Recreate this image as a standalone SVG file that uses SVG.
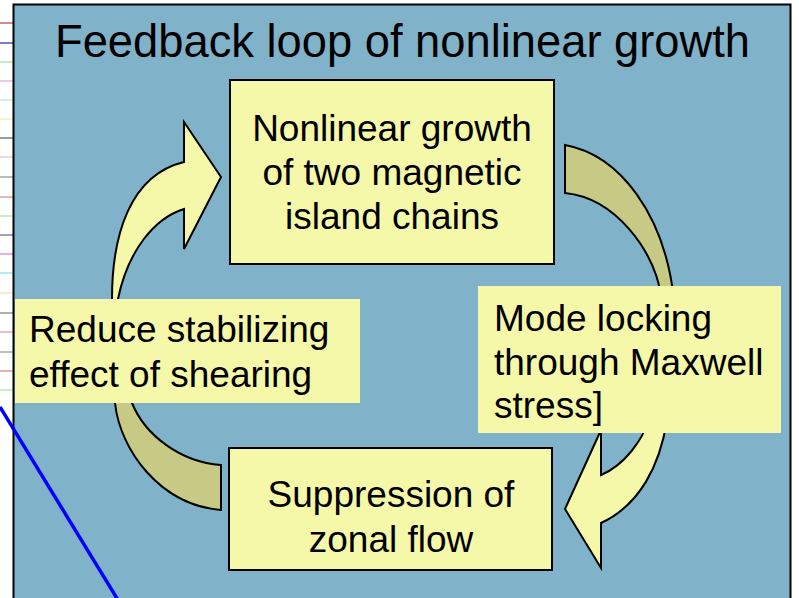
<svg xmlns="http://www.w3.org/2000/svg" width="799" height="598" viewBox="0 0 799 598">
<style>
.t{font-family:"Liberation Sans",Arial,sans-serif;fill:#000;font-size:37px}
.box{fill:#F5F8A8}
.sbox{fill:#F5F8A8;stroke:#000;stroke-width:2}
.arr{fill:#F5F8A8;stroke:#000;stroke-width:2;stroke-linejoin:miter}
.back{fill:#C6CA85;stroke:#000;stroke-width:2}
.st{stroke-width:2}
</style>
<rect x="0" y="0" width="799" height="598" fill="#fff"/>
<g id="strip" class="st">
<line x1="0" y1="23" x2="13" y2="23" stroke="#d88a8a"/>
<line x1="0" y1="43" x2="13" y2="43" stroke="#7a7ad0"/>
<line x1="0" y1="62" x2="13" y2="62" stroke="#c6eac6"/>
<line x1="0" y1="81" x2="13" y2="81" stroke="#eccae4"/>
<line x1="0" y1="100" x2="13" y2="100" stroke="#d2f0ea"/>
<line x1="0" y1="119" x2="13" y2="119" stroke="#f6f4d0"/>
<line x1="0" y1="138" x2="13" y2="138" stroke="#9a9a9a"/>
<line x1="0" y1="157" x2="13" y2="157" stroke="#f0d8d8"/>
<line x1="0" y1="177" x2="13" y2="177" stroke="#bcbcbc"/>
<line x1="0" y1="197" x2="13" y2="197" stroke="#e8b6b6"/>
<line x1="0" y1="216" x2="13" y2="216" stroke="#d0eac4"/>
<line x1="0" y1="235" x2="13" y2="235" stroke="#a2a0be"/>
<line x1="0" y1="254" x2="13" y2="254" stroke="#e8b2e8"/>
<line x1="0" y1="273" x2="13" y2="273" stroke="#b6eaf4"/>
<line x1="0" y1="293" x2="13" y2="293" stroke="#eaf4c4"/>
<line x1="0" y1="313" x2="13" y2="313" stroke="#b0b0b0"/>
<line x1="0" y1="332" x2="13" y2="332" stroke="#ecc0c0"/>
<line x1="0" y1="352" x2="13" y2="352" stroke="#c0c0c0"/>
<line x1="0" y1="371" x2="13" y2="371" stroke="#e8b0b0"/>
<line x1="0" y1="390" x2="13" y2="390" stroke="#d0ead0"/>
</g>
<rect id="frame" x="13.5" y="4.5" width="777" height="600" fill="#80B3C9" stroke="#000" stroke-width="2"/>
<text id="title" class="t" x="55" y="57" style="font-size:45.3px">Feedback loop of nonlinear growth</text>
<g id="connectors">
<path class="arr" d="M112,320 L112,299 C112,235 130,175 184,162 L184,122 L221,177 L184,249 L184,209 C155,218 128,250 118,299 L118,320 Z"/>
<path class="back" d="M113,392 L115,403 C120,450 160,505 221,510 L221,465 C180,462 145,435 132,403 L130,392 Z"/>
<path class="back" d="M565,145 C620,155 665,215 674,300 L662,300 C655,250 615,198 565,193 Z"/>
<path class="arr" d="M667,420 C660,465 640,505 601,523 L601,568 L565,509 L601,430 L601,475 C625,465 642,440 649,420 Z"/>
</g>
<g id="node-top">
<rect class="sbox" x="230" y="80" width="324" height="184"/>
<text class="t" text-anchor="middle" x="392" y="141">Nonlinear growth</text>
<text class="t" text-anchor="middle" x="392" y="185">of two magnetic</text>
<text class="t" text-anchor="middle" x="392" y="229">island chains</text>
</g>
<g id="node-right">
<rect class="box" x="478" y="286" width="303" height="147"/>
<text class="t" x="494" y="331">Mode locking</text>
<text class="t" x="494" y="375">through Maxwell</text>
<text class="t" x="494" y="418">stress]</text>
</g>
<g id="node-bottom">
<rect class="sbox" x="229" y="448" width="323" height="122"/>
<text class="t" text-anchor="middle" x="391" y="507">Suppression of</text>
<text class="t" text-anchor="middle" x="391" y="552">zonal flow</text>
</g>
<g id="node-left">
<rect class="box" x="15" y="299" width="345" height="104"/>
<text class="t" x="29" y="342">Reduce stabilizing</text>
<text class="t" x="29" y="387">effect of shearing</text>
</g>
<line id="blue-line" x1="0" y1="407" x2="118" y2="600" stroke="#0000ff" stroke-width="3.5"/>
</svg>
